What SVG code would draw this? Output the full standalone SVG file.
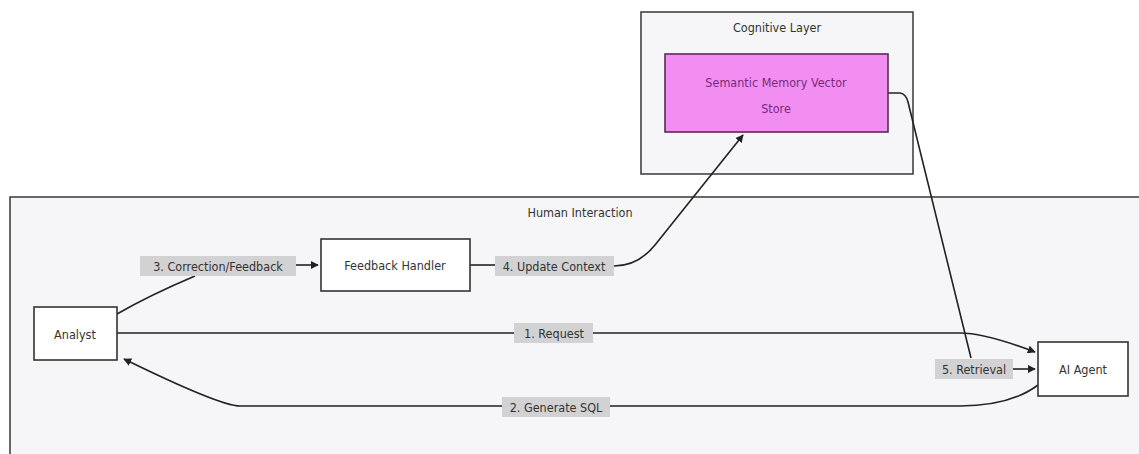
<svg xmlns="http://www.w3.org/2000/svg" width="1139" height="454" viewBox="0 0 1139 454">
<defs>
<marker id="arr" viewBox="0 0 10 10" refX="9" refY="5" markerWidth="8" markerHeight="8" orient="auto-start-reverse" markerUnits="userSpaceOnUse">
<path d="M0,0 L10,5 L0,10 z" fill="#222"/>
</marker>
<style>
.cl{fill:#f6f6f9;stroke:#444;stroke-width:1.6}
.nd{fill:#fff;stroke:#333;stroke-width:1.6}
.t{font-family:"DejaVu Sans Condensed","DejaVu Sans",sans-serif;font-size:12.5px;fill:#333;text-anchor:middle;dominant-baseline:central}
.e{fill:none;stroke:#222;stroke-width:1.6}
.lb{fill:#d2d2d4}
</style>
</defs>
<rect width="1139" height="454" fill="#ffffff"/>
<g id="cluster-human">
<rect class="cl" x="10" y="197" width="1140" height="270"/>
<text class="t" x="580" y="212">Human Interaction</text>
</g>
<g id="cluster-cognitive">
<rect class="cl" x="641" y="12" width="272" height="162"/>
<text class="t" x="777" y="27">Cognitive Layer</text>
</g>
<g id="connectors">
<path class="e" d="M117,333 L960,333 Q985,333 1035,352" marker-end="url(#arr)"/>
<path class="e" d="M1038,385 Q1010,406 960,406 L240,406 Q220,406 124,359" marker-end="url(#arr)"/>
<path class="e" d="M117,314 Q150,295 195,276"/>
<path class="e" d="M296,265 L318,265" marker-end="url(#arr)"/>
<path class="e" d="M470,265 L495,265"/>
<path class="e" d="M614,266 Q638,266 655,245 L743,135" marker-end="url(#arr)"/>
<path class="e" d="M888,93 L900,93 Q906,94 908,102 L971,358"/>
<path class="e" d="M1013,369 L1035,369" marker-end="url(#arr)"/>
<rect class="lb" x="514" y="323" width="79" height="20"/>
<text class="t" x="554" y="333">1. Request</text>
<rect class="lb" x="502" y="397" width="108" height="20"/>
<text class="t" x="556" y="407">2. Generate SQL</text>
<rect class="lb" x="140" y="256" width="156" height="20"/>
<text class="t" x="218" y="266">3. Correction/Feedback</text>
<rect class="lb" x="495" y="256" width="119" height="20"/>
<text class="t" x="554" y="266">4. Update Context</text>
<rect class="lb" x="935" y="359" width="78" height="20"/>
<text class="t" x="974" y="369">5. Retrieval</text>
</g>
<g id="node-semantic">
<rect x="665" y="54" width="223" height="78" fill="#f28ef2" stroke="#5a2a5a" stroke-width="1.6"/>
<text class="t" x="776" y="82" style="fill:#7a2a7a">Semantic Memory Vector</text>
<text class="t" x="776" y="108" style="fill:#7a2a7a">Store</text>
</g>
<g id="node-feedback">
<rect class="nd" x="321" y="239" width="149" height="52"/>
<text class="t" x="395" y="265">Feedback Handler</text>
</g>
<g id="node-analyst">
<rect class="nd" x="34" y="307" width="83" height="53"/>
<text class="t" x="75" y="334">Analyst</text>
</g>
<g id="node-agent">
<rect class="nd" x="1038" y="342" width="90" height="54"/>
<text class="t" x="1083" y="369">AI Agent</text>
</g>
</svg>
